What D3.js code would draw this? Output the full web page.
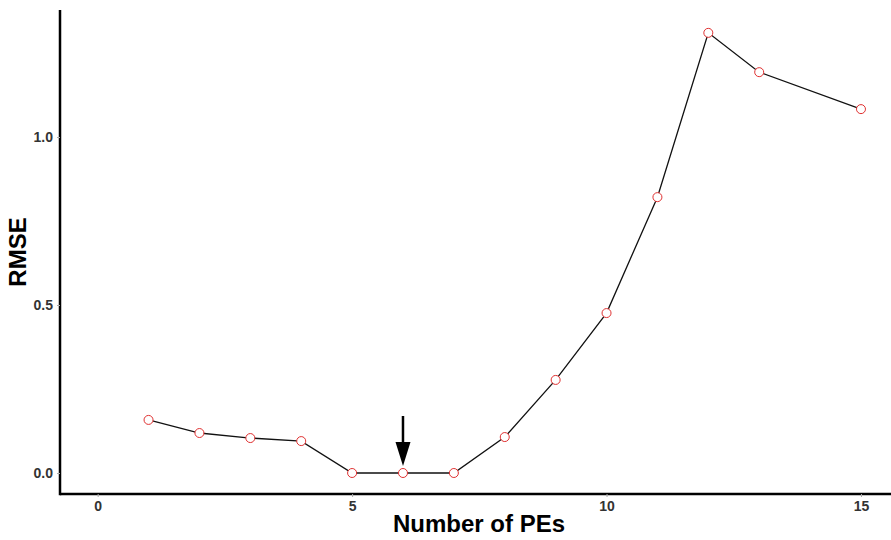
<!DOCTYPE html>
<html>
<head>
<meta charset="utf-8">
<script src="https://cdn.jsdelivr.net/npm/d3@7"></script>
<style>
  body { margin: 0; background: #fff; }
  svg { display: block; font-family: "Liberation Sans", Arial, sans-serif; }
</style>
</head>
<body>
<svg id="chart" width="891" height="540"></svg>
<script>
// data (PE 14 has no point)
const pes  = [1, 2, 3, 4, 5, 6, 7, 8, 9, 10, 11, 12, 13, 15];
const rmse = [0.158, 0.119, 0.104, 0.095, 0, 0, 0, 0.107, 0.277, 0.476, 0.821, 1.310, 1.193, 1.083];
const xTicks = [0, 5, 10, 15];
const yTicks = [0, 0.5, 1.0];
const chosenPE = 6;

const width = 891, height = 540;
const margin = {top: 10, right: 0, bottom: 46, left: 60};

const svg = d3.select("#chart");

const x = d3.scaleLinear()
    .domain([-0.74, 15.59])
    .range([margin.left, width - margin.right]);
const y = d3.scaleLinear()
    .domain([-0.0625, 1.378])
    .range([height - margin.bottom, margin.top]);

const data = pes.map((p, i) => ({pe: p, v: rmse[i]}));

// axes
const xAxis = svg.append("g")
    .attr("transform", `translate(0,${height - margin.bottom})`)
    .call(d3.axisBottom(x).tickValues(xTicks).tickFormat(d3.format("d")).tickSize(3).tickPadding(4));
const yAxis = svg.append("g")
    .attr("transform", `translate(${margin.left},0)`)
    .call(d3.axisLeft(y).tickValues(yTicks).tickFormat(d3.format(".1f")).tickSize(3).tickPadding(4));

[xAxis, yAxis].forEach(g => {
    g.select(".domain").attr("stroke", "#000").attr("stroke-width", 2.5);
    g.selectAll(".tick line").attr("stroke", "#aaa").attr("stroke-width", 1);
    g.selectAll(".tick text")
        .attr("fill", "#333")
        .style("font-size", "14px")
        .style("font-weight", "bold");
});
// extend domains to meet in the corner
xAxis.select(".domain").attr("d", `M${margin.left},0H${width}`);
yAxis.select(".domain").attr("d", `M0,${margin.top}V${height - margin.bottom + 1.25}`);

// axis titles
svg.append("text")
    .attr("x", 479)
    .attr("y", 532)
    .attr("text-anchor", "middle")
    .style("font-size", "24px")
    .style("font-weight", "bold")
    .text("Number of PEs");
svg.append("text")
    .attr("transform", `translate(26,252) rotate(-90)`)
    .attr("text-anchor", "middle")
    .style("font-size", "24px")
    .style("font-weight", "bold")
    .text("RMSE");

// line
const line = d3.line().x(d => x(d.pe)).y(d => y(d.v));
svg.append("path")
    .datum(data)
    .attr("fill", "none")
    .attr("stroke", "#111")
    .attr("stroke-width", 1.3)
    .attr("d", line);

// points
svg.append("g")
    .selectAll("circle")
    .data(data)
    .join("circle")
    .attr("cx", d => x(d.pe))
    .attr("cy", d => y(d.v))
    .attr("r", 4.5)
    .attr("fill", "#fff")
    .attr("stroke", "#e03030")
    .attr("stroke-width", 1);

// arrow pointing at the chosen number of PEs
const ax = x(chosenPE);
const tipY = y(0) - 7;
svg.append("line")
    .attr("x1", ax).attr("x2", ax)
    .attr("y1", tipY - 50).attr("y2", tipY - 20)
    .attr("stroke", "#000")
    .attr("stroke-width", 2.5);
svg.append("path")
    .attr("d", `M${ax - 7.5},${tipY - 24}L${ax + 7.5},${tipY - 24}L${ax},${tipY}Z`)
    .attr("fill", "#000");
</script>
</body>
</html>
